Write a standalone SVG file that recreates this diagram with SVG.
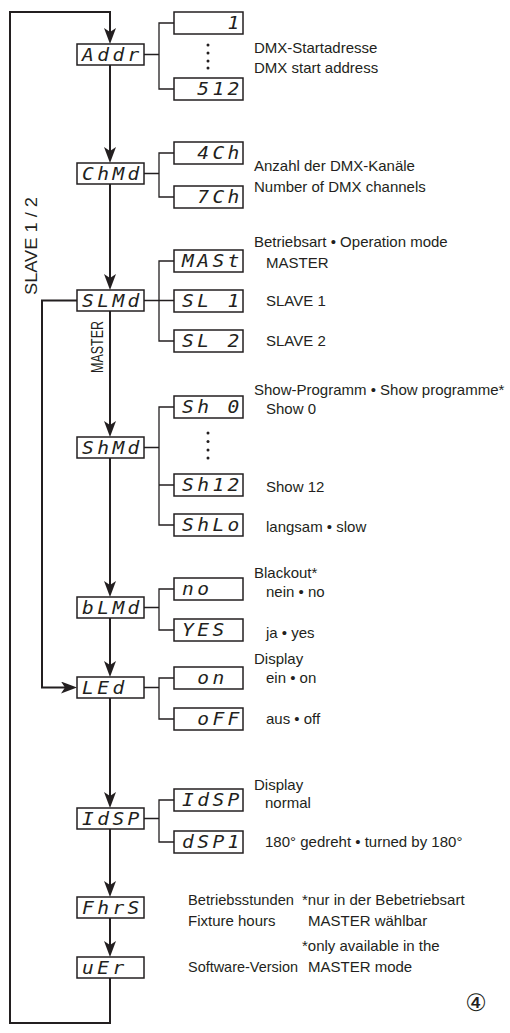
<svg xmlns="http://www.w3.org/2000/svg" width="510" height="1033" viewBox="0 0 510 1033">
<style>
.box{fill:#fff;stroke:#231f20;stroke-width:1.5}
.seg{font-family:"DejaVu Sans Mono",monospace;font-style:oblique;font-size:17px;letter-spacing:3px;fill:#231f20;white-space:pre}
.lbl{font-family:"Liberation Sans",Arial,sans-serif;font-size:15px;fill:#231f20}
.main{fill:none;stroke:#231f20;stroke-width:2}
.br{fill:none;stroke:#231f20;stroke-width:1.3}
.dot{fill:#231f20}
</style>
<defs>
<marker id="ah" viewBox="0 0 16 12" refX="10" refY="6" markerWidth="16" markerHeight="12" markerUnits="userSpaceOnUse" orient="auto">
<path d="M0,0 L16,6 L0,12 L4,6 Z" fill="#231f20"/>
</marker>
</defs>

<g id="connectors">
<path class="main" d="M110,978 V1023 H10 V12 H110 V38" marker-end="url(#ah)"/>
<path class="main" d="M110,65 V157" marker-end="url(#ah)"/>
<path class="main" d="M110,184 V284" marker-end="url(#ah)"/>
<path class="main" d="M110,311 V431" marker-end="url(#ah)"/>
<path class="main" d="M110,458 V591" marker-end="url(#ah)"/>
<path class="main" d="M110,618 V671" marker-end="url(#ah)"/>
<path class="main" d="M110,698 V802" marker-end="url(#ah)"/>
<path class="main" d="M110,829 V891" marker-end="url(#ah)"/>
<path class="main" d="M110,918 V951" marker-end="url(#ah)"/>
<path class="main" d="M77,300.5 H42 V687.5 H71" marker-end="url(#ah)"/>
<path class="br" d="M144,54.5 H159 M174,23 H159 V89 H174"/>
<path class="br" d="M144,173.5 H159 M174,153 H159 V197 H174"/>
<path class="br" d="M144,300.5 H174 M174,261 H159 V341 H174"/>
<path class="br" d="M144,447.5 H159 M174,407 H159 V525 H174 M159,485 H174"/>
<path class="br" d="M144,607.5 H159 M174,589 H159 V630 H174"/>
<path class="br" d="M144,687.5 H159 M174,678 H159 V719 H174"/>
<path class="br" d="M144,818.5 H159 M174,800 H159 V842 H174"/>
</g>

<g id="n-addr"><rect class="box" x="77" y="44" width="67" height="21"/><text class="seg" transform="translate(82,61) scale(1.15,1)" xml:space="preserve">Addr</text></g>
<g id="v-1"><rect class="box" x="174" y="12" width="69" height="22"/><text class="seg" transform="translate(182,29) scale(1.15,1)" xml:space="preserve">   1</text></g>
<g id="v-512"><rect class="box" x="174" y="78" width="69" height="22"/><text class="seg" transform="translate(182,95) scale(1.15,1)" xml:space="preserve"> 512</text></g>
<g id="dots-addr"><circle class="dot" cx="208" cy="45" r="1.5"/><circle class="dot" cx="208" cy="53" r="1.5"/><circle class="dot" cx="208" cy="61" r="1.5"/><circle class="dot" cx="208" cy="68" r="1.5"/></g>

<g id="n-chmd"><rect class="box" x="77" y="163" width="67" height="21"/><text class="seg" transform="translate(82,180) scale(1.15,1)" xml:space="preserve">ChMd</text></g>
<g id="v-4ch"><rect class="box" x="174" y="142" width="69" height="22"/><text class="seg" transform="translate(182,159) scale(1.15,1)" xml:space="preserve"> 4Ch</text></g>
<g id="v-7ch"><rect class="box" x="174" y="186" width="69" height="22"/><text class="seg" transform="translate(182,203) scale(1.15,1)" xml:space="preserve"> 7Ch</text></g>

<g id="n-slmd"><rect class="box" x="77" y="290" width="67" height="21"/><text class="seg" transform="translate(82,307) scale(1.15,1)" xml:space="preserve">SLMd</text></g>
<g id="v-mast"><rect class="box" x="174" y="250" width="69" height="22"/><text class="seg" transform="translate(182,267) scale(1.15,1)" xml:space="preserve">MASt</text></g>
<g id="v-sl1"><rect class="box" x="174" y="290" width="69" height="22"/><text class="seg" transform="translate(182,307) scale(1.15,1)" xml:space="preserve">SL 1</text></g>
<g id="v-sl2"><rect class="box" x="174" y="330" width="69" height="22"/><text class="seg" transform="translate(182,347) scale(1.15,1)" xml:space="preserve">SL 2</text></g>

<g id="n-shmd"><rect class="box" x="77" y="437" width="67" height="21"/><text class="seg" transform="translate(82,454) scale(1.15,1)" xml:space="preserve">ShMd</text></g>
<g id="v-sh0"><rect class="box" x="174" y="396" width="69" height="22"/><text class="seg" transform="translate(182,413) scale(1.15,1)" xml:space="preserve">Sh 0</text></g>
<g id="dots-sh"><circle class="dot" cx="208" cy="433" r="1.5"/><circle class="dot" cx="208" cy="441.5" r="1.5"/><circle class="dot" cx="208" cy="450" r="1.5"/><circle class="dot" cx="208" cy="458" r="1.5"/></g>
<g id="v-sh12"><rect class="box" x="174" y="474" width="69" height="22"/><text class="seg" transform="translate(182,491) scale(1.15,1)" xml:space="preserve">Sh12</text></g>
<g id="v-shlo"><rect class="box" x="174" y="514" width="69" height="22"/><text class="seg" transform="translate(182,531) scale(1.15,1)" xml:space="preserve">ShLo</text></g>

<g id="n-blmd"><rect class="box" x="77" y="597" width="67" height="21"/><text class="seg" transform="translate(82,614) scale(1.15,1)" xml:space="preserve">bLMd</text></g>
<g id="v-no"><rect class="box" x="174" y="578" width="69" height="22"/><text class="seg" transform="translate(182,595) scale(1.15,1)" xml:space="preserve">no</text></g>
<g id="v-yes"><rect class="box" x="174" y="619" width="69" height="22"/><text class="seg" transform="translate(182,636) scale(1.15,1)" xml:space="preserve">YES</text></g>

<g id="n-led"><rect class="box" x="77" y="677" width="67" height="21"/><text class="seg" transform="translate(82,694) scale(1.15,1)" xml:space="preserve">LEd</text></g>
<g id="v-on"><rect class="box" x="174" y="667" width="69" height="22"/><text class="seg" transform="translate(182,684) scale(1.15,1)" xml:space="preserve"> on</text></g>
<g id="v-off"><rect class="box" x="174" y="708" width="69" height="22"/><text class="seg" transform="translate(182,725) scale(1.15,1)" xml:space="preserve"> oFF</text></g>

<g id="n-idsp"><rect class="box" x="77" y="808" width="67" height="21"/><text class="seg" transform="translate(82,825) scale(1.15,1)" xml:space="preserve">IdSP</text></g>
<g id="v-idsp"><rect class="box" x="174" y="789" width="69" height="22"/><text class="seg" transform="translate(182,806) scale(1.15,1)" xml:space="preserve">IdSP</text></g>
<g id="v-dsp1"><rect class="box" x="174" y="831" width="69" height="22"/><text class="seg" transform="translate(182,848) scale(1.15,1)" xml:space="preserve">dSP1</text></g>

<g id="n-fhrs"><rect class="box" x="77" y="897" width="67" height="21"/><text class="seg" transform="translate(82,914) scale(1.15,1)" xml:space="preserve">FhrS</text></g>
<g id="n-uer"><rect class="box" x="77" y="957" width="67" height="21"/><text class="seg" transform="translate(82,974) scale(1.15,1)" xml:space="preserve">uEr</text></g>

<g id="labels">
<text class="lbl" x="254" y="53">DMX-Startadresse</text>
<text class="lbl" x="254" y="73">DMX start address</text>
<text class="lbl" x="254" y="171">Anzahl der DMX-Kanäle</text>
<text class="lbl" x="254" y="192">Number of DMX channels</text>
<text class="lbl" x="254" y="247">Betriebsart • Operation mode</text>
<text class="lbl" x="266" y="268">MASTER</text>
<text class="lbl" x="266" y="306">SLAVE 1</text>
<text class="lbl" x="266" y="346">SLAVE 2</text>
<text class="lbl" x="254" y="395">Show-Programm • Show programme*</text>
<text class="lbl" x="266" y="414">Show 0</text>
<text class="lbl" x="266" y="492">Show 12</text>
<text class="lbl" x="266" y="532">langsam • slow</text>
<text class="lbl" x="254" y="578">Blackout*</text>
<text class="lbl" x="266" y="597">nein • no</text>
<text class="lbl" x="266" y="638">ja • yes</text>
<text class="lbl" x="254" y="664">Display</text>
<text class="lbl" x="266" y="683">ein • on</text>
<text class="lbl" x="266" y="724">aus • off</text>
<text class="lbl" x="254" y="790">Display</text>
<text class="lbl" x="265" y="808">normal</text>
<text class="lbl" x="265" y="847">180° gedreht • turned by 180°</text>
<text class="lbl" x="188" y="905" textLength="106" lengthAdjust="spacingAndGlyphs">Betriebsstunden</text>
<text class="lbl" x="188" y="926">Fixture hours</text>
<text class="lbl" x="188" y="972" textLength="110" lengthAdjust="spacingAndGlyphs">Software-Version</text>
<text class="lbl" x="302" y="905">*nur in der Bebetriebsart</text>
<text class="lbl" x="308" y="926">MASTER wählbar</text>
<text class="lbl" x="302" y="951">*only available in the</text>
<text class="lbl" x="308" y="972">MASTER mode</text>
<text class="lbl" transform="translate(103,347) rotate(-90)" text-anchor="middle" textLength="52" lengthAdjust="spacingAndGlyphs" style="font-size:16px">MASTER</text>
<text class="lbl" transform="translate(37,246) rotate(-90)" text-anchor="middle" textLength="98" lengthAdjust="spacingAndGlyphs" style="font-size:16px">SLAVE 1 / 2</text>
<text x="476" y="1011" text-anchor="middle" style="font-family:'DejaVu Sans','Noto Sans CJK JP',sans-serif;font-size:24px;fill:#231f20">④</text>
</g>
</svg>
